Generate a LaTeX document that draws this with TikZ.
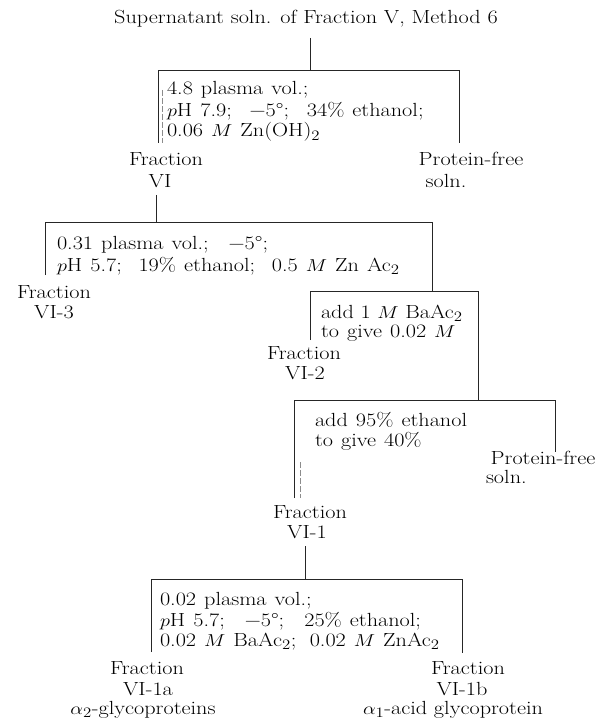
\documentclass[tikz,border=0pt]{standalone}
\usepackage{graphicx}
\newcommand{\sx}[1]{\scalebox{1.17}[1]{#1}}
\newcommand{\wspc}{\spaceskip=0.36em plus 0.1em\relax}
\newcommand{\gp}[1]{\hspace{#1em}}
\begin{document}
\begin{tikzpicture}[x=1pt,y=-1pt,
  txt/.style={inner sep=0pt, outer sep=0pt, font=\fontsize{19}{19}\selectfont, anchor=base, text height=13pt, text depth=4pt},
  ltxt/.style={txt, anchor=base west, font=\fontsize{19}{19}\selectfont\wspc},
  ln/.style={line width=0.8pt, black!85},
  faint/.style={line width=0.5pt, black!45, dash pattern=on 6pt off 2pt}]
\useasboundingbox (0,0) rectangle (607,719);

% title
\node[txt] (title) at (306,24) {\sx{Supernatant soln. of Fraction V, Method 6}};
\coordinate (t0) at (310,38);
\coordinate (t1) at (310,70);
\draw[ln] (t0) -- (t1);

% bracket 1
\coordinate (b1lb) at (158,143);
\coordinate (b1lt) at (158,70);
\coordinate (b1rt) at (459,70);
\coordinate (b1rb) at (459,143);
\draw[ln] (b1lb) -- (b1lt) -- (b1rt) -- (b1rb);
\draw[faint] (162,90) -- (162,143);
\node[ltxt] (b1a) at (167,95) {\sx{4.8 plasma vol.;}};
\node[ltxt] (b1b) at (167,117) {\sx{$p$H 7.9;\gp{0.8}−5°;\gp{0.8}34\% ethanol;}};
\node[ltxt] (b1c) at (167,137) {\sx{0.06 $M$ Zn(OH)$_2$}};

\node[txt] (f6a) at (166,166) {\sx{Fraction}};
\node[txt] (f6b) at (160,188) {\sx{VI}};
\node[txt] (pf1a) at (471,166) {\sx{Protein-free}};
\node[txt] (pf1b) at (446,188) {\sx{soln.}};

% VI -> bracket 2
\coordinate (v6) at (156,195);
\coordinate (b2t) at (156,222);
\draw[ln] (v6) -- (b2t);

% bracket 2
\coordinate (b2lb) at (45,275);
\coordinate (b2lt) at (45,222);
\coordinate (b2rt) at (432,222);
\coordinate (b2rb) at (432,291);
\draw[ln] (b2lb) -- (b2lt) -- (b2rt) -- (b2rb);
\node[ltxt] (b2a) at (57,249) {\sx{0.31 plasma vol.;\gp{0.9}−5°;}};
\node[ltxt] (b2b) at (57,271) {\sx{$p$H 5.7;\gp{0.75}19\% ethanol;\gp{0.75}0.5 $M$ Zn Ac$_2$}};

\node[txt] (f63a) at (54,298) {\sx{Fraction}};
\node[txt] (f63b) at (54,318) {\sx{VI-3}};

% bracket 3
\coordinate (b3lb) at (310,340);
\coordinate (b3lt) at (310,291);
\coordinate (b3rt) at (478,291);
\coordinate (b3rb) at (478,400);
\draw[ln] (b3lb) -- (b3lt) -- (b3rt) -- (b3rb);
\node[ltxt] (b3a) at (321,318) {\sx{\spaceskip=0.3em\relax add 1 $M$ BaAc$_2$}};
\node[ltxt] (b3b) at (321,337) {\sx{to give 0.02 $M$}};

\node[txt] (f62a) at (304,359) {\sx{Fraction}};
\node[txt] (f62b) at (305,379) {\sx{VI-2}};

% bracket 4
\coordinate (b4lb) at (294,498);
\coordinate (b4lt) at (294,400);
\coordinate (b4rt) at (555,400);
\coordinate (b4rb) at (555,452);
\draw[ln] (b4lb) -- (b4lt) -- (b4rt) -- (b4rb);
\draw[faint] (300,462) -- (300,498);
\node[ltxt] (b4a) at (315,426) {\sx{add 95\% ethanol}};
\node[ltxt] (b4b) at (315,446) {\sx{to give 40\%}};

\node[txt] (pf2a) at (543,464) {\sx{Protein-free}};
\node[ltxt] (pf2b) at (486,483) {\sx{soln.}};

\node[txt] (f61a) at (310,518) {\sx{Fraction}};
\node[txt] (f61b) at (307,538) {\sx{VI-1}};

% VI-1 -> bracket 5
\coordinate (v61) at (305,546);
\coordinate (b5t) at (305,579);
\draw[ln] (v61) -- (b5t);

% bracket 5
\coordinate (b5lb) at (151,652);
\coordinate (b5lt) at (151,579);
\coordinate (b5rt) at (462,579);
\coordinate (b5rb) at (462,653);
\draw[ln] (b5lb) -- (b5lt) -- (b5rt) -- (b5rb);
\node[ltxt] (b5a) at (160,605) {\sx{0.02 plasma vol.;}};
\node[ltxt] (b5b) at (160,626) {\sx{$p$H 5.7;\gp{0.9}−5°;\gp{0.9}25\% ethanol;}};
\node[ltxt] (b5c) at (160,646) {\sx{0.02 $M$ BaAc$_2$;\gp{0.6}0.02 $M$ ZnAc$_2$}};

\node[txt] (f6aa) at (147,674) {\sx{Fraction}};
\node[txt] (f6ab) at (148,695) {\sx{VI-1a}};
\node[txt] (f6ac) at (143,714) {\sx{$\alpha_2$-glycoproteins}};
\node[txt] (f6ba) at (468,674) {\sx{Fraction}};
\node[txt] (f6bb) at (462,695) {\sx{VI-1b}};
\node[txt] (f6bc) at (453,714) {\sx{$\alpha_1$-acid glycoprotein}};
\end{tikzpicture}
\end{document}
